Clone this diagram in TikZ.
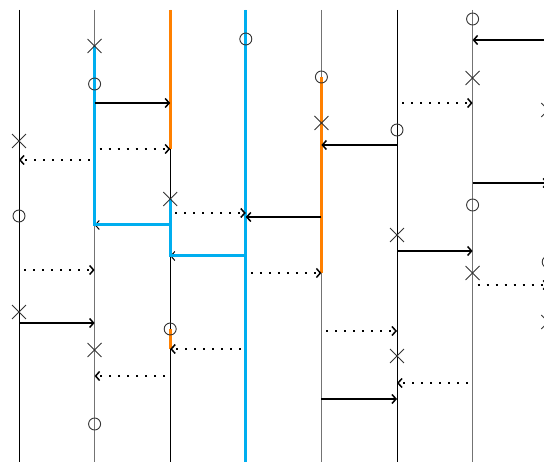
\documentclass[tikz,border=0pt]{standalone}
\usetikzlibrary{arrows.meta,shapes.misc}
\definecolor{hlblue}{HTML}{00AEEF}
\definecolor{hlorange}{HTML}{FF8000}
\tikzset{
  lifeline/.style={line width=0.9pt,black},
  lifegray/.style={line width=0.9pt,black!55},
  msg/.style={line width=1.5pt,-{Straight Barb[length=4pt,width=9pt]}},
  msgthin/.style={line width=1pt,-{Straight Barb[length=4pt,width=9pt]}},
  dmsg/.style={msg,dash pattern=on 2pt off 7pt,dash phase=4pt},
  blueline/.style={line width=3pt,hlblue},
  orangeline/.style={line width=3pt,hlorange},
  xmark/.style={cross out,draw=black!80,line width=0.9pt,minimum size=13pt,inner sep=0pt},
  omark/.style={circle,draw=black!80,line width=0.9pt,minimum size=12pt,inner sep=0pt},
}
\begin{document}
\begin{tikzpicture}[x=1pt,y=-1pt]
\useasboundingbox (0,0) rectangle (544,462);
% process x-positions
\def\PA{19}\def\PB{94.6}\def\PC{170.2}\def\PD{245.8}
\def\PE{321.4}\def\PF{397}\def\PG{472.6}\def\PH{548.2}

% lifelines
\coordinate (ta) at (\PA,10); \coordinate (ba) at (\PA,462);
\coordinate (tb) at (\PB,10); \coordinate (bb) at (\PB,462);
\coordinate (tc) at (\PC,10); \coordinate (bc) at (\PC,462);
\coordinate (td) at (\PD,10); \coordinate (bd) at (\PD,462);
\coordinate (te) at (\PE,10); \coordinate (be) at (\PE,462);
\coordinate (tf) at (\PF,10); \coordinate (bf) at (\PF,462);
\coordinate (tg) at (\PG,10); \coordinate (bg) at (\PG,462);
\draw[lifeline] (ta) -- (ba);
\draw[lifegray] (tb) -- (bb);
\draw[lifeline] (tc) -- (bc);
\draw[lifeline] (td) -- (bd);
\draw[lifegray] (te) -- (be);
\draw[lifeline] (tf) -- (bf);
\draw[lifegray] (tg) -- (bg);

% message end points
\coordinate (s1a) at (\PB,103); \coordinate (s1b) at (\PC,103);
\coordinate (s2a) at (\PF,145); \coordinate (s2b) at (\PE,145);
\coordinate (s3a) at (\PE,217); \coordinate (s3b) at (\PD,217);
\coordinate (s4a) at (\PA,323); \coordinate (s4b) at (\PB,323);
\coordinate (s5a) at (\PF,251); \coordinate (s5b) at (\PG,251);
\coordinate (s6a) at (\PE,399); \coordinate (s6b) at (\PF,399);
\coordinate (s7a) at (\PH,40);  \coordinate (s7b) at (\PG,40);
\coordinate (s8a) at (\PG,183); \coordinate (s8b) at (\PH,183);
\coordinate (b1a) at (\PC,225); \coordinate (b1b) at (\PB,225);
\coordinate (b2a) at (\PD,256); \coordinate (b2b) at (\PC,256);

\coordinate (d1a) at (\PB,149); \coordinate (d1b) at (\PC,149);
\coordinate (d2a) at (\PB,160); \coordinate (d2b) at (\PA,160);
\coordinate (d3a) at (\PC,213); \coordinate (d3b) at (\PD,213);
\coordinate (d4a) at (\PA,270); \coordinate (d4b) at (\PB,270);
\coordinate (d5a) at (\PD,273); \coordinate (d5b) at (\PE,273);
\coordinate (d6a) at (\PD,349); \coordinate (d6b) at (\PC,349);
\coordinate (d7a) at (\PC,376); \coordinate (d7b) at (\PB,376);
\coordinate (d8a) at (\PE,331); \coordinate (d8b) at (\PF,331);
\coordinate (d9a) at (\PG,383); \coordinate (d9b) at (\PF,383);
\coordinate (d10a) at (\PF,103); \coordinate (d10b) at (\PG,103);
\coordinate (d11a) at (\PG,285); \coordinate (d11b) at (\PH,285);

% highlighted orange stretches
\draw[orangeline] (tc) -- (d1b);
\draw[orangeline] (\PE,77) -- (d5b);
\draw[orangeline] (\PC,329) -- (d6b);

% messages under the blue chain
\draw[msgthin] (b1a) -- (b1b);
\draw[msgthin] (b2a) -- (b2b);

% blue chain
\draw[blueline] (\PB,46) -- (b1b) -- (b1a);
\draw[blueline] (\PC,199) -- (b2b) -- (b2a);
\draw[blueline] (td) -- (bd);

% solid messages
\draw[msg] (s1a) -- (s1b);
\draw[msg] (s2a) -- (s2b);
\draw[msg] (s3a) -- (s3b);
\draw[msg] (s4a) -- (s4b);
\draw[msg] (s5a) -- (s5b);
\draw[msg] (s6a) -- (s6b);
\draw[msg] (s7a) -- (s7b);
\draw[msg] (s8a) -- (s8b);

% dotted messages
\draw[dmsg] (d1a) -- (d1b);
\draw[dmsg] (d2a) -- (d2b);
\draw[dmsg] (d3a) -- (d3b);
\draw[dmsg] (d4a) -- (d4b);
\draw[dmsg] (d5a) -- (d5b);
\draw[dmsg] (d6a) -- (d6b);
\draw[dmsg] (d7a) -- (d7b);
\draw[dmsg] (d8a) -- (d8b);
\draw[dmsg] (d9a) -- (d9b);
\draw[dmsg] (d10a) -- (d10b);
\draw[dmsg] (d11a) -- (d11b);

% events
\node[xmark] (xa1) at (\PA,141) {};
\node[omark] (oa1) at (\PA,216) {};
\node[xmark] (xa2) at (\PA,312) {};
\node[xmark] (xb1) at (\PB,46) {};
\node[omark] (ob1) at (\PB,84) {};
\node[xmark] (xb2) at (\PB,350) {};
\node[omark] (ob2) at (\PB,424) {};
\node[xmark] (xc1) at (\PC,199) {};
\node[omark] (oc1) at (\PC,329) {};
\node[omark] (od1) at (\PD,39) {};
\node[omark] (oe1) at (\PE,77) {};
\node[xmark] (xe1) at (\PE,123) {};
\node[omark] (of1) at (\PF,130) {};
\node[xmark] (xf1) at (\PF,235) {};
\node[xmark] (xf2) at (\PF,356) {};
\node[omark] (og1) at (\PG,19) {};
\node[xmark] (xg1) at (\PG,78) {};
\node[omark] (og2) at (\PG,205) {};
\node[xmark] (xg2) at (\PG,273) {};
\node[xmark] (xh1) at (\PH,110) {};
\node[omark] (oh1) at (\PH,262) {};
\node[xmark] (xh2) at (\PH,322) {};
\end{tikzpicture}
\end{document}
